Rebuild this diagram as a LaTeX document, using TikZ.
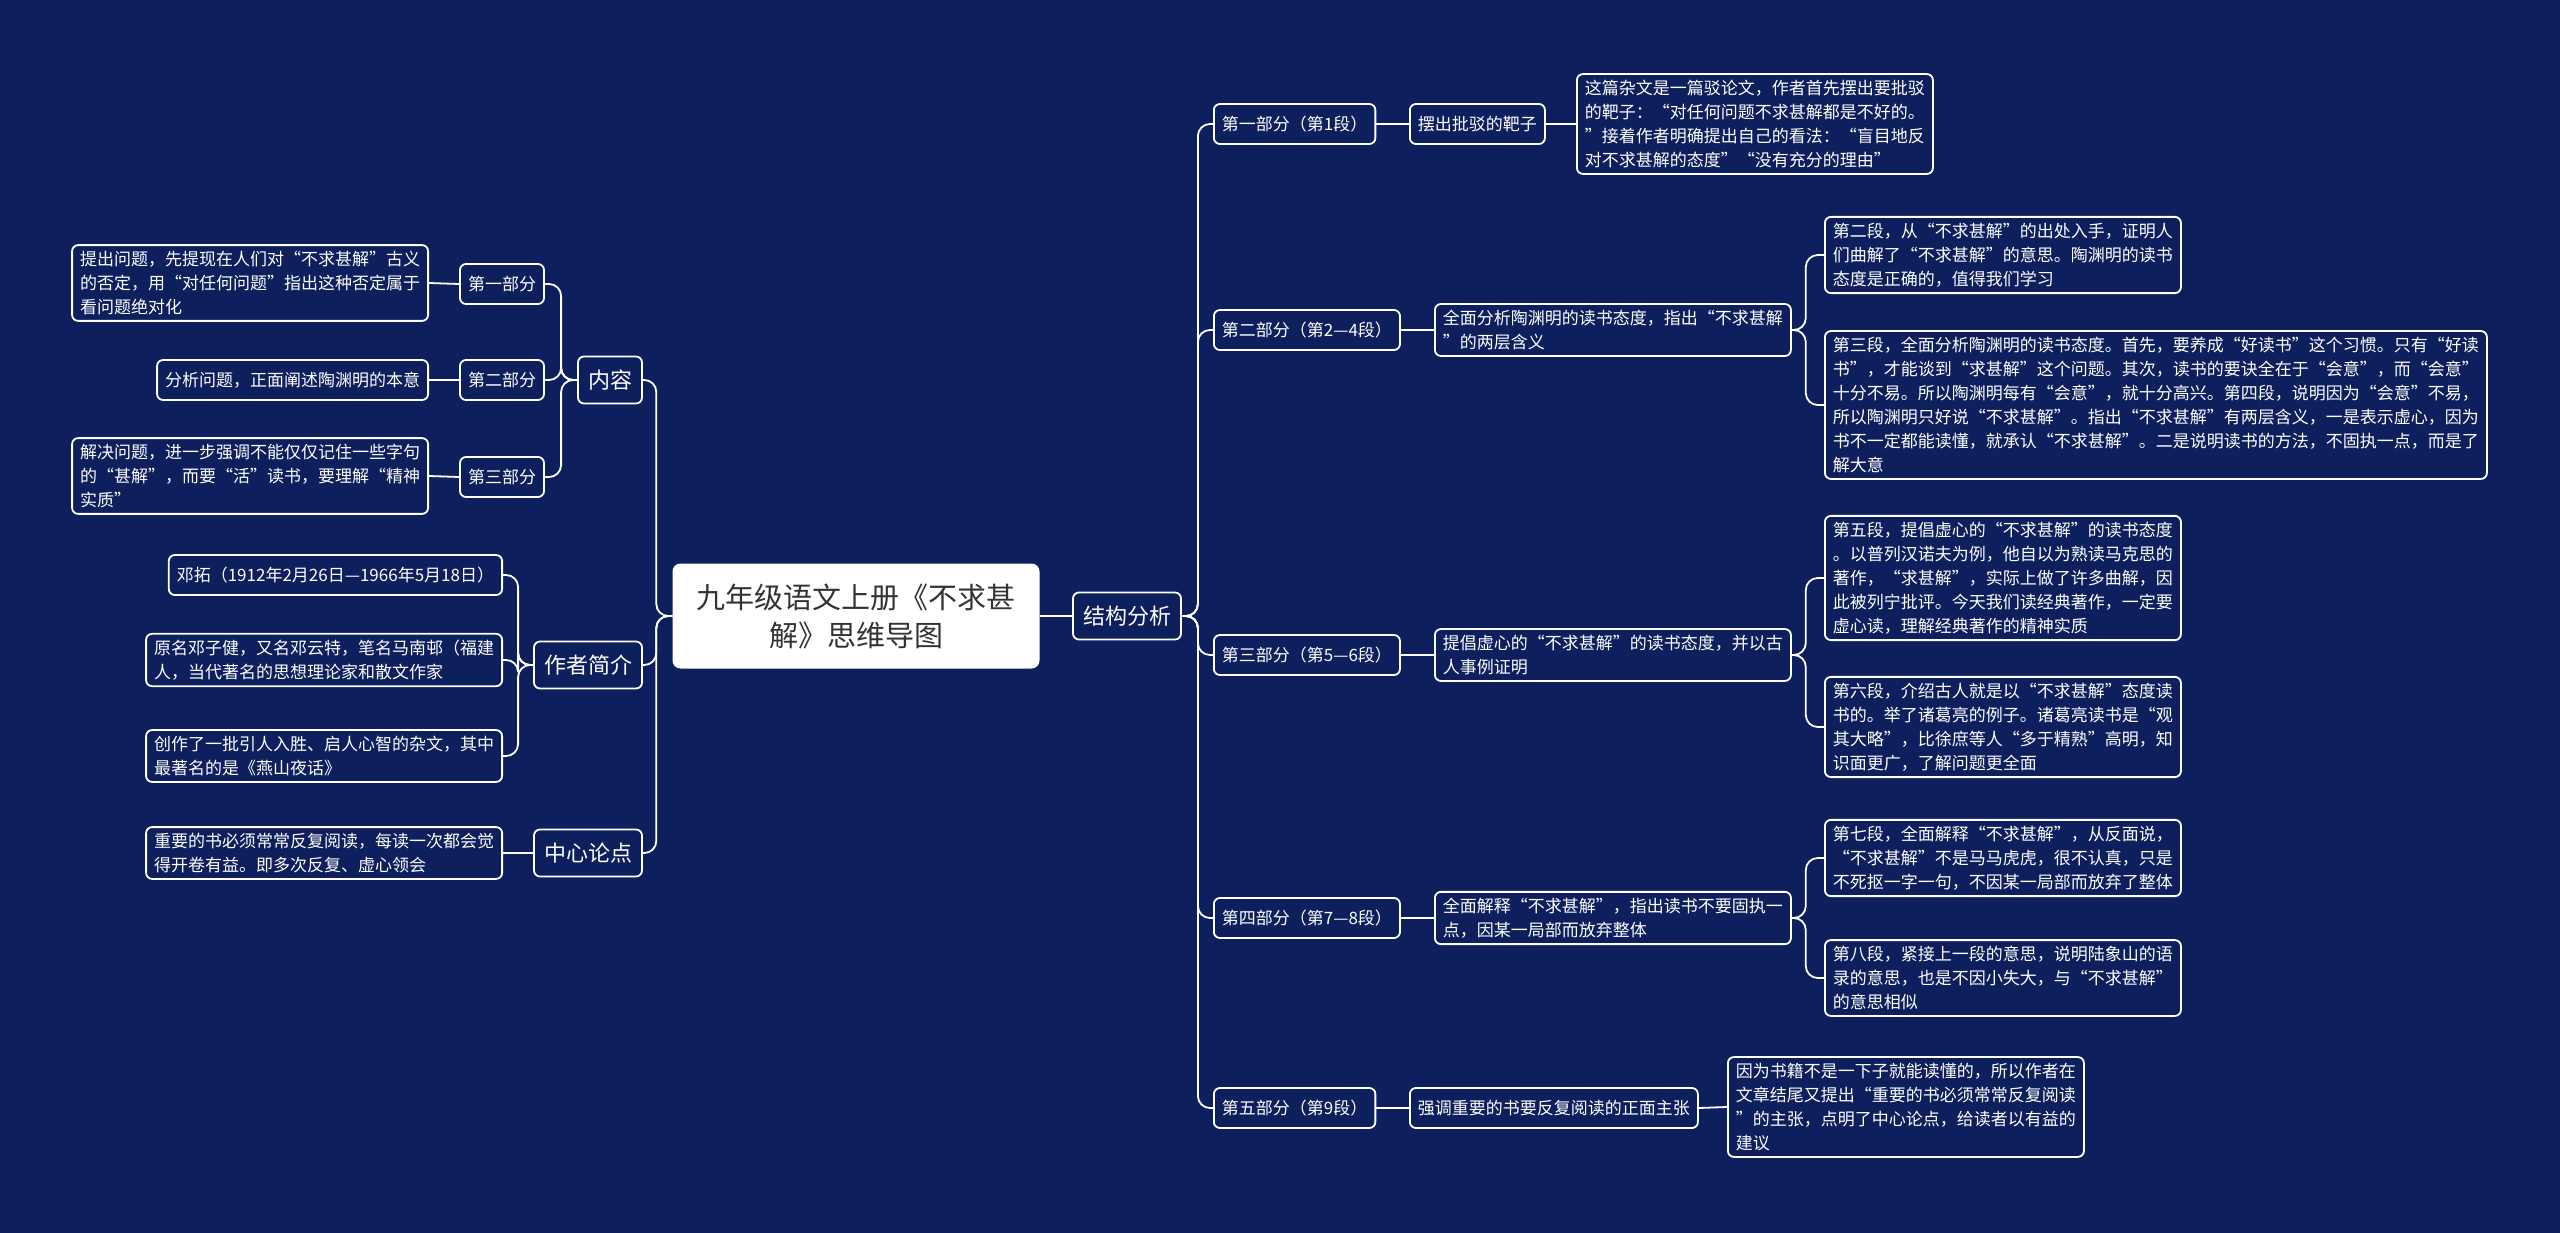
\documentclass[tikz,border=0pt]{standalone}
\usepackage{fontspec}
\setmainfont{Noto Sans CJK SC}
\usepackage{tikz}
\usetikzlibrary{positioning}
\definecolor{grund}{HTML}{0D1F5C}
\definecolor{titeltext}{HTML}{333333}

\begin{document}
\begin{tikzpicture}[x=1pt, y=-1pt,
			box/.style={draw=white, line width=1.8pt, rounded corners=6pt, fill=grund, text=white,
				align=left, inner xsep=8pt, inner ysep=6pt, minimum height=40pt,
				font=\fontsize{17}{24}\selectfont},
			thema/.style={box, inner xsep=10pt, minimum height=47pt, font=\fontsize{22}{28}\selectfont},
			haupt/.style={fill=white, text=titeltext, rounded corners=8pt, align=center,
				minimum width=367pt, minimum height=105pt, font=\fontsize{29}{38}\selectfont},
			link/.style={draw=white, line width=1.8pt, rounded corners=12pt}]
			%Hintergrund
			\fill[grund] (0,0) rectangle (2560,1233);
			\useasboundingbox (0,0) rectangle (2560,1233);
			% Hauptknoten
			\node[haupt] (titel) at (856,616) {九年级语文上册《不求甚\\解》思维导图};
			\node[thema] (struktur) at (1127,616) {结构分析};
			\node[thema] (inhalt) at (610,380) {内容};
			\node[thema] (autor) at (588,665) {作者简介};
			\node[thema] (kern) at (588,853) {中心论点};
			% linke Seite: Inhalt
			\node[box] (teil1) at (502,284) {第一部分};
			\node[box] (teil2) at (502,380) {第二部分};
			\node[box] (teil3) at (502,477) {第三部分};
			\node[box, anchor=east] (blatt1) at (429,283) {提出问题，先提现在人们对“不求甚解”古义\\的否定，用“对任何问题”指出这种否定属于\\看问题绝对化};
			\node[box, anchor=east] (blatt2) at (429,380) {分析问题，正面阐述陶渊明的本意};
			\node[box, anchor=east] (blatt3) at (429,476) {解决问题，进一步强调不能仅仅记住一些字句\\的“甚解”，而要“活”读书，要理解“精神\\实质”};
			% linke Seite: Autor und Kern
			\node[box, anchor=east] (autor1) at (503,575) {邓拓（1912年2月26日—1966年5月18日）};
			\node[box, anchor=east] (autor2) at (503,660) {原名邓子健，又名邓云特，笔名马南邨（福建\\人，当代著名的思想理论家和散文作家};
			\node[box, anchor=east] (autor3) at (503,756) {创作了一批引人入胜、启人心智的杂文，其中\\最著名的是《燕山夜话》};
			\node[box, anchor=east] (kern1) at (503,853) {重要的书必须常常反复阅读，每读一次都会觉\\得开卷有益。即多次反复、虚心领会};
			% rechte Seite: Abschnitte
			\node[box, anchor=west] (abschnitt1) at (1213,124) {第一部分（第1段）};
			\node[box, anchor=west] (abschnitt2) at (1213,330) {第二部分（第2—4段）};
			\node[box, anchor=west] (abschnitt3) at (1213,655) {第三部分（第5—6段）};
			\node[box, anchor=west] (abschnitt4) at (1213,918) {第四部分（第7—8段）};
			\node[box, anchor=west] (abschnitt5) at (1213,1108) {第五部分（第9段）};
			\node[box, anchor=west] (punkt1) at (1409,124) {摆出批驳的靶子};
			\node[box, anchor=west] (punkt2) at (1434,330) {全面分析陶渊明的读书态度，指出“不求甚解\\”的两层含义};
			\node[box, anchor=west] (punkt3) at (1434,655) {提倡虚心的“不求甚解”的读书态度，并以古\\人事例证明};
			\node[box, anchor=west] (punkt4) at (1434,918) {全面解释“不求甚解”，指出读书不要固执一\\点，因某一局部而放弃整体};
			\node[box, anchor=west] (punkt5) at (1409,1108) {强调重要的书要反复阅读的正面主张};
			% rechte Seite: Details
			\node[box, anchor=west] (detail1) at (1576,124) {这篇杂文是一篇驳论文，作者首先摆出要批驳\\的靶子：“对任何问题不求甚解都是不好的。\\”接着作者明确提出自己的看法：“盲目地反\\对不求甚解的态度”“没有充分的理由”};
			\node[box, anchor=west] (detail21) at (1824,255) {第二段，从“不求甚解”的出处入手，证明人\\们曲解了“不求甚解”的意思。陶渊明的读书\\态度是正确的，值得我们学习};
			\node[box, anchor=west] (detail22) at (1824,405) {第三段，全面分析陶渊明的读书态度。首先，要养成“好读书”这个习惯。只有“好读\\书”，才能谈到“求甚解”这个问题。其次，读书的要诀全在于“会意”，而“会意”\\十分不易。所以陶渊明每有“会意”，就十分高兴。第四段，说明因为“会意”不易，\\所以陶渊明只好说“不求甚解”。指出“不求甚解”有两层含义，一是表示虚心，因为\\书不一定都能读懂，就承认“不求甚解”。二是说明读书的方法，不固执一点，而是了\\解大意};
			\node[box, anchor=west] (detail31) at (1824,578) {第五段，提倡虚心的“不求甚解”的读书态度\\。以普列汉诺夫为例，他自以为熟读马克思的\\著作，“求甚解”，实际上做了许多曲解，因\\此被列宁批评。今天我们读经典著作，一定要\\虚心读，理解经典著作的精神实质};
			\node[box, anchor=west] (detail32) at (1824,727) {第六段，介绍古人就是以“不求甚解”态度读\\书的。举了诸葛亮的例子。诸葛亮读书是“观\\其大略”，比徐庶等人“多于精熟”高明，知\\识面更广，了解问题更全面};
			\node[box, anchor=west] (detail41) at (1824,858) {第七段，全面解释“不求甚解”，从反面说，\\“不求甚解”不是马马虎虎，很不认真，只是\\不死抠一字一句，不因某一局部而放弃了整体};
			\node[box, anchor=west] (detail42) at (1824,978) {第八段，紧接上一段的意思，说明陆象山的语\\录的意思，也是不因小失大，与“不求甚解”\\的意思相似};
			\node[box, anchor=west] (detail5) at (1727,1107) {因为书籍不是一下子就能读懂的，所以作者在\\文章结尾又提出“重要的书必须常常反复阅读\\”的主张，点明了中心论点，给读者以有益的\\建议};
			% Verbindungen zeichnen
			\draw[link] (titel.east) -- (struktur.west);
			\foreach \z in {inhalt, autor, kern} \draw[link] (titel.west) -- ++(-16,0) |- (\z.east);
			\foreach \z in {1,2,3} \draw[link] (inhalt.west) -- ++(-16,0) |- (teil\z.east);
			\foreach \z in {1,2,3} \draw[link] (teil\z.west) -- (blatt\z.east);
			\foreach \z in {1,2,3} \draw[link] (autor.west) -- ++(-15,0) |- (autor\z.east);
			\draw[link] (kern.west) -- (kern1.east);
			\foreach \z in {1,...,5} \draw[link] (struktur.east) -- ++(16,0) |- (abschnitt\z.west);
			\foreach \z in {1,...,5} \draw[link] (abschnitt\z.east) -- (punkt\z.west);
			\draw[link] (punkt1.east) -- (detail1.west);
			\draw[link] (punkt5.east) -- (detail5.west);
			\foreach \z in {2,3,4} {
				\draw[link] (punkt\z.east) -- ++(14,0) |- (detail\z1.west);
				\draw[link] (punkt\z.east) -- ++(14,0) |- (detail\z2.west);
			}
		\end{tikzpicture}
\end{document}
